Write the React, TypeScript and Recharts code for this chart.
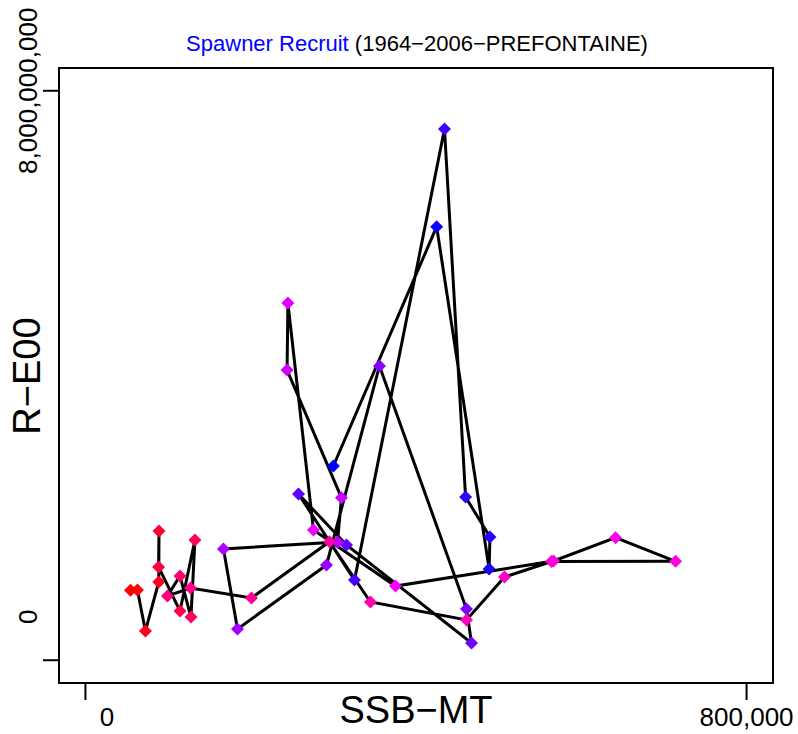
import { ScatterChart, Scatter, XAxis, YAxis, ReferenceArea } from "recharts";

// spawner-recruit pairs (SSB in tonnes, recruits in millions)
const years = [
  1964, 1965, 1966, 1967, 1968, 1969, 1970, 1971, 1972, 1973, 1974, 1975, 1976, 1977,
  1978, 1979, 1980, 1981, 1982, 1983, 1984, 1985, 1986, 1987, 1988, 1989, 1990, 1991,
  1992, 1993, 1994, 1995, 1996, 1997, 1998, 1999, 2000, 2001, 2002, 2003, 2004, 2005,
];
const ssb = [
  300000, 425000, 488500, 489500, 460000, 434500, 325600, 257800, 315900, 467200,
  461100, 355800, 291700, 184000, 167000, 305000, 309800, 244000, 245000, 275900,
  375200, 566400, 641500, 714100, 564000, 507100, 461100, 344900, 295300, 200900,
  127100, 99200, 114400, 127700, 132500, 114400, 88500, 89000, 88700, 72600, 62900, 54500,
];
const recruits = [
  2729, 6090, 1281, 1731, 2293, 7463, 1127, 2335, 1619, 242,
  719, 4134, 1338, 438, 1563, 1660, 2281, 4077, 5019, 1830,
  1042, 1394, 1721, 1390, 1386, 1170, 566, 818, 1665, 874,
  1015, 903, 1183, 607, 1689, 692, 1310, 1815, 1099, 411, 986, 982,
];
const xTicks = [0, 800000];
const yTicks = [0, 8000000000];

// axis limits 0..800,000 and 0..8e9, padded 4% each side like R does
const xDomain = [-32000, 832000];
const yDomain = [-320e6, 8320e6];

const FONT = "'Liberation Sans', Arial, Helvetica, sans-serif";

const data = years.map((year, i) => ({
  year,
  ssb: ssb[i],
  rec: recruits[i] * 1e6,
  // blue -> magenta -> red along the years
  color: `hsl(${240 + (120 * i) / (years.length - 1)}, 100%, 50%)`,
}));

// R pads the labels of one axis to a common width, so short ones sit off-centre
const padLabel = (v: number, ticks: number[]) => {
  const width = Math.max(...ticks.map((t) => t.toLocaleString("en-US").length));
  return v.toLocaleString("en-US").padStart(width, "\u00a0");
};

function Diamond(props: any) {
  const { cx, cy, payload } = props;
  const r = 6.5;
  return (
    <polygon
      points={`${cx},${cy - r} ${cx + r},${cy} ${cx},${cy + r} ${cx - r},${cy}`}
      fill={payload.color}
    />
  );
}

function XTick(props: any) {
  const { x, y, payload } = props;
  return (
    <text
      x={x}
      y={y + 26}
      textAnchor="middle"
      fontSize={26}
      fontFamily={FONT}
      fill="#000"
      style={{ whiteSpace: "pre" }}
    >
      {padLabel(payload.value, xTicks)}
    </text>
  );
}

function YTick(props: any) {
  const { x, y, payload } = props;
  const bx = x - 6;
  return (
    <text
      x={bx}
      y={y}
      transform={`rotate(-90 ${bx} ${y})`}
      textAnchor="middle"
      fontSize={26}
      fontFamily={FONT}
      fill="#000"
      style={{ whiteSpace: "pre" }}
    >
      {padLabel(payload.value, yTicks)}
    </text>
  );
}

export default function App() {
  return (
    <div style={{ position: "absolute", left: 0, top: 0, width: 798, height: 734, background: "#fff" }}>
      <ScatterChart width={798} height={734} margin={{ top: 68, right: 25, bottom: 0, left: 0 }}>
        <XAxis
          type="number"
          dataKey="ssb"
          domain={xDomain}
          ticks={xTicks}
          height={51}
          tickSize={17}
          tickMargin={0}
          axisLine={false}
          tickLine={{ stroke: "#000", strokeWidth: 2 }}
          tick={<XTick />}
          allowDataOverflow
        />
        <YAxis
          type="number"
          dataKey="rec"
          domain={yDomain}
          ticks={yTicks}
          width={59}
          tickSize={16}
          tickMargin={0}
          axisLine={false}
          tickLine={{ stroke: "#000", strokeWidth: 2 }}
          tick={<YTick />}
          allowDataOverflow
        />
        <ReferenceArea
          x1={xDomain[0]}
          x2={xDomain[1]}
          y1={yDomain[0]}
          y2={yDomain[1]}
          fill="none"
          fillOpacity={0}
          stroke="#000"
          strokeWidth={2}
        />
        <Scatter
          data={data}
          line={{ stroke: "#000", strokeWidth: 3 }}
          lineJointType="linear"
          shape={<Diamond />}
          isAnimationActive={false}
        />
      </ScatterChart>
      <svg
        width={798}
        height={734}
        style={{ position: "absolute", left: 0, top: 0, pointerEvents: "none" }}
      >
        <text x={417} y={51} textAnchor="middle" fontSize={22} fontFamily={FONT}>
          <tspan fill="#0000ff">Spawner Recruit</tspan>
          <tspan fill="#000"> (1964−2006−PREFONTAINE)</tspan>
        </text>
        <text x={416} y={723} textAnchor="middle" fontSize={38} fontFamily={FONT} fill="#000">
          SSB−MT
        </text>
        <text
          x={40}
          y={376}
          transform="rotate(-90 40 376)"
          textAnchor="middle"
          fontSize={38}
          fontFamily={FONT}
          fill="#000"
        >
          R−E00
        </text>
      </svg>
    </div>
  );
}
